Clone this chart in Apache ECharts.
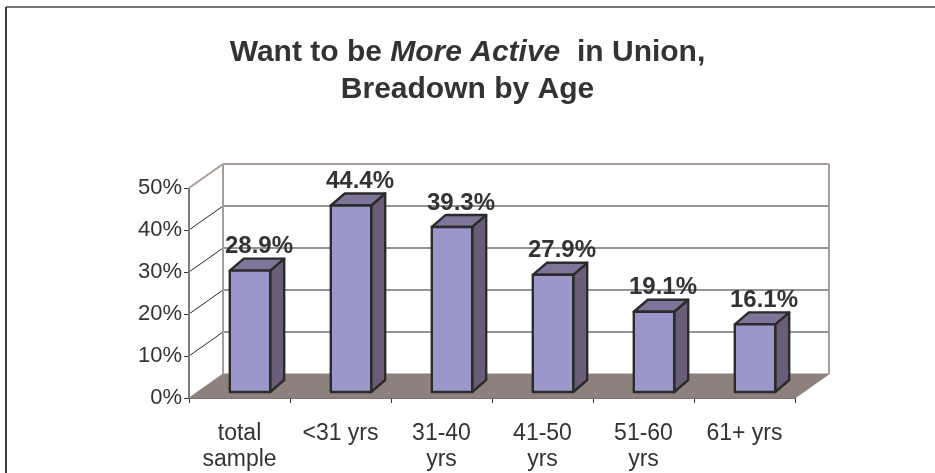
<!DOCTYPE html>
<html>
<head>
<meta charset="utf-8">
<script src="https://cdn.jsdelivr.net/npm/echarts@6/dist/echarts.min.js"></script>
<style>
  html, body { margin: 0; padding: 0; background: #ffffff; }
  #chart { width: 935px; height: 473px; }
</style>
</head>
<body>
<div id="chart"></div>
<script>
// Share of members who want to be more active in the union, by age group
const categories = ['total\nsample', '<31 yrs', '31-40\nyrs', '41-50\nyrs', '51-60\nyrs', '61+ yrs'];
const moreActive = [28.9, 44.4, 39.3, 27.9, 19.1, 16.1];
const yTicks = [0, 10, 20, 30, 40, 50];

const FONT = '"Liberation Sans", Arial, Helvetica, sans-serif';
const TEXT = '#333333';

// Pseudo-3D geometry (pixel offsets)
const WALL = [34, -24];       // depth of the floor and side wall
const BAR_FRONT = [10.5, -6]; // bars stand a little behind the front edge
const BAR_DEPTH = [14, -12];  // visible depth of each bar
const BAR_FRAC = 0.4;         // bar width as share of a category

const EDGE = '#a99d99';
const FLOOR = '#8d817e';
const GRID = '#2a2a2a';
const FACE = '#9b97cb';
const SIDE = '#6a5d77';
const TOP = '#7f7499';
const OUTLINE = '#2b2b2b';

function renderWalls(params, api) {
  const cs = params.coordSys;
  const x0 = cs.x, x1 = cs.x + cs.width;
  const [dx, dy] = WALL;
  const yBase = api.coord([0, yTicks[0]])[1];
  const yMax = api.coord([0, yTicks[yTicks.length - 1]])[1];
  const children = [];

  // floor
  children.push({
    type: 'polygon',
    shape: { points: [[x0, yBase], [x1, yBase], [x1 + dx, yBase + dy], [x0 + dx, yBase + dy]] },
    style: { fill: FLOOR, stroke: FLOOR, lineWidth: 1 }
  });

  // grid lines on the side wall and the back wall
  yTicks.forEach(function (v, k) {
    if (k === 0) return;
    const y = api.coord([0, v])[1];
    const last = k === yTicks.length - 1;
    children.push({
      type: 'line',
      shape: { x1: x0, y1: y, x2: x0 + dx, y2: y + dy },
      style: { stroke: last ? EDGE : GRID, lineWidth: last ? 2 : 1 }
    });
    children.push({
      type: 'line',
      shape: { x1: x0 + dx, y1: y + dy, x2: x1 + dx, y2: y + dy },
      style: { stroke: last ? EDGE : GRID, lineWidth: last ? 2 : 1 }
    });
  });

  // wall corner edges
  children.push({
    type: 'line',
    shape: { x1: x0 + dx, y1: yMax + dy, x2: x0 + dx, y2: yBase + dy },
    style: { stroke: EDGE, lineWidth: 2 }
  });
  children.push({
    type: 'line',
    shape: { x1: x1 + dx, y1: yMax + dy, x2: x1 + dx, y2: yBase + dy },
    style: { stroke: EDGE, lineWidth: 2 }
  });
  children.push({
    type: 'line',
    shape: { x1: x0, y1: yMax, x2: x0, y2: yBase },
    style: { stroke: '#857875', lineWidth: 2 }
  });
  return { type: 'group', children: children };
}

function renderBar(params, api) {
  const i = api.value(0);
  const v = api.value(1);
  const base = api.coord([i, 0]);
  const top = api.coord([i, v]);
  const w = api.size([1, 0])[0] * BAR_FRAC;
  const cx = base[0] + BAR_FRONT[0];
  const xl = cx - w / 2, xr = cx + w / 2;
  const yb = base[1] + BAR_FRONT[1];
  const yt = top[1] + BAR_FRONT[1];
  const [ddx, ddy] = BAR_DEPTH;
  const line = { stroke: OUTLINE, lineWidth: 2.4, lineJoin: 'round' };
  return {
    type: 'group',
    children: [
      {
        type: 'polygon',
        shape: { points: [[xr, yb], [xr + ddx, yb + ddy], [xr + ddx, yt + ddy], [xr, yt]] },
        style: Object.assign({ fill: SIDE }, line)
      },
      {
        type: 'polygon',
        shape: { points: [[xl, yt], [xl + ddx, yt + ddy], [xr + ddx, yt + ddy], [xr, yt]] },
        style: Object.assign({ fill: TOP }, line)
      },
      {
        type: 'rect',
        shape: { x: xl, y: yt, width: w, height: yb - yt },
        style: Object.assign({ fill: FACE }, line)
      },
      {
        type: 'text',
        x: cx + 9,
        y: yt - 24,
        style: {
          text: v.toFixed(1) + '%',
          align: 'center',
          verticalAlign: 'middle',
          fill: TEXT,
          font: 'bold 24px ' + FONT
        }
      }
    ]
  };
}

const chart = echarts.init(document.getElementById('chart'), null, { renderer: 'canvas' });

chart.setOption({
  backgroundColor: '#ffffff',
  animation: false,
  title: {
    left: 'center',
    top: 29,
    text: '{n|Want to be }{i|More Active}{n|  in Union,}\n{n|Breadown by Age}',
    textStyle: {
      rich: {
        n: { fontFamily: FONT, fontWeight: 'bold', fontSize: 30, color: TEXT, lineHeight: 37 },
        i: { fontFamily: FONT, fontWeight: 'bold', fontStyle: 'italic', fontSize: 30, color: TEXT, lineHeight: 37 }
      }
    }
  },
  grid: { left: 189, right: 140, top: 188, bottom: 74 },
  xAxis: {
    type: 'category',
    data: categories,
    boundaryGap: true,
    axisLine: { lineStyle: { color: '#333', width: 1.5 } },
    axisTick: { show: true, length: 5, lineStyle: { color: '#333' } },
    axisLabel: {
      interval: 0,
      margin: 23,
      fontFamily: FONT,
      fontSize: 23,
      lineHeight: 26,
      color: TEXT
    },
    splitLine: { show: false }
  },
  yAxis: {
    type: 'value',
    min: 0,
    max: 50,
    interval: 10,
    axisLine: { show: false },
    axisTick: { show: true, length: 5, lineStyle: { color: '#333' } },
    axisLabel: {
      margin: 7,
      fontFamily: FONT,
      fontSize: 22,
      color: TEXT,
      formatter: '{value}%'
    },
    splitLine: { show: false }
  },
  graphic: [
    { type: 'line', shape: { x1: 6, y1: 7, x2: 935, y2: 7 }, style: { stroke: '#777', lineWidth: 2 } },
    { type: 'line', shape: { x1: 6, y1: 7, x2: 6, y2: 473 }, style: { stroke: '#3a3a3a', lineWidth: 2 } }
  ],
  series: [
    {
      type: 'custom',
      renderItem: renderWalls,
      data: [[0, 0]],
      encode: { x: 0, y: 1 },
      z: 1,
      silent: true
    },
    {
      type: 'custom',
      renderItem: renderBar,
      data: moreActive.map(function (v, i) { return [i, v]; }),
      encode: { x: 0, y: 1 },
      z: 5
    }
  ]
});
</script>
</body>
</html>
